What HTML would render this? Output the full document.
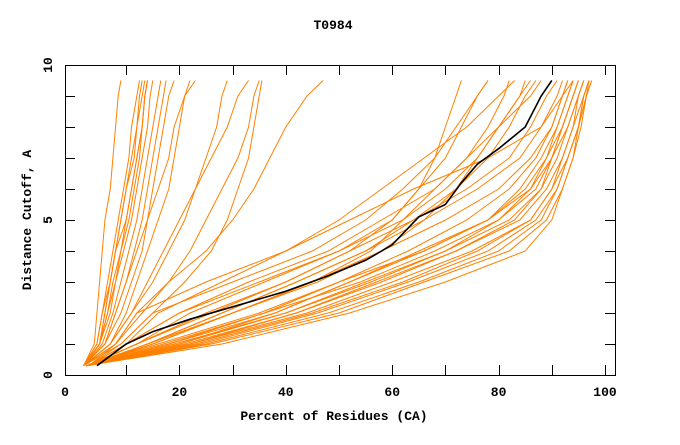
<!DOCTYPE html>
<html><head><meta charset="utf-8"><style>
body{margin:0;background:#fff}
svg text{font-family:"Liberation Mono",monospace;font-weight:bold;font-size:13px}
</style></head><body>
<svg id="chart" width="680" height="440" xmlns="http://www.w3.org/2000/svg">
<text x="333" y="29" text-anchor="middle">T0984</text>
<text x="334" y="420" text-anchor="middle">Percent of Residues (CA)</text>
<text x="31" y="220" text-anchor="middle" transform="rotate(-90 31 220)">Distance Cutoff, A</text>
<g id="series"></g>
<g id="axes"></g>
</svg>
<script>
const cutoffs=[0.3,1,2,3,4,5,6,7,8,9,9.5];
const xTicks=[0,20,40,60,80,100];
const yTicks=[0,5,10];
const orangeSeries=[
[2,4,4.5,5,5.5,6,7,7.5,8,8.5,9],
[2,4.5,5.5,6.5,7.5,8.5,9.5,10.5,11,12,12.5],
[2,5,6.5,7.5,9,10,11,12,13,13.5,14],
[2,5,7,8,9.5,11,12,13,14,14.5,15],
[2,5.5,7.5,9,10.5,12,13,14,15,16,16.5],
[2,5,6,7,8,9,10,11,12,12.5,13],
[2,6,8,10,11.5,13,14,15,16,17,17.5],
[2,5,6.5,8,9,10.5,11.5,12.5,13,13.5,14],
[2,4.5,5.5,7,8,10,11,12,13,13.5,14],
[2,6,9,11,13,14,15,16,17,18,19],
[2,5,6,7,8,9,10,11.5,12,13,13.5],
[2,6,8,10,12,14,16,18,19,21,22],
[2,7,10,12,14,16,18,19,20,21,23],
[2,7,11,15,18,21,23,25,27,28,29],
[2,8,13,18,22,25,28,31,33,34,35],
[2,9,15,21,26,29,31,33,34,35,35.5],
[2,7,11,14,17,20,23,26,29,31,33],
[2,8,12,18,25,30,34,37,40,44,47],
[3,8,12,25,40,50,58,66,74,80,83],
[3,9,15,30,45,55,62,68,72,76,78],
[3,10,20,33,48,58,68,74,78,81,82],
[3,12,25,40,52,60,65,70,73,76,78],
[3,15,30,45,56,62,68,74,80,86,88],
[3,14,28,42,55,64,72,78,82,85,87],
[3,10,16,28,40,52,64,78,88,92,94],
[3,12,22,36,50,62,70,76,80,84,86],
[3,14,30,46,58,66,72,76,80,84,85],
[3,10,20,35,50,60,65,68,70,72,73],
[2.5,18,38,52,65,78,85,89,92,94,95],
[2.5,20,40,55,70,82,88,91,93,95,96],
[2.5,22,44,60,75,86,90,92,94,96,97],
[2.5,25,48,65,80,88,91,93,95,96,97],
[2.5,28,52,70,85,90,92,94,95,96.5,97.5],
[2.5,16,35,50,63,74,82,87,90,92,93],
[2.5,19,40,56,70,80,86,89,91,93,94],
[2.5,21,42,58,72,83,88,90,92,94,95],
[2.5,23,45,62,76,86,90,93,95,96,97],
[2.5,17,36,50,66,78,84,88,91,93,94],
[2.5,24,46,63,78,87,91,93,95,96.5,97.5],
[2.5,20,38,52,66,78,86,90,93,95,96],
[2.5,26,50,66,82,89,92,94,95.5,96.5,97],
[2.5,18,36,54,68,80,87,90,92,94,95],
[2.5,22,42,57,72,84,89,92,94,95,96],
[2.5,15,30,45,58,70,80,86,90,92,93],
[2.5,14,28,42,55,66,76,84,88,91,92],
[2.5,12,26,40,52,64,74,82,86,89,91]
];
const blackX=[4.5,10,15,22,30,40,48,55,60,65,70,73,76,80,85,88,90];
const blackY=[0.3,1,1.4,1.8,2.2,2.7,3.2,3.7,4.2,5.1,5.5,6.2,6.8,7.3,8.0,9.0,9.5];

const NS="http://www.w3.org/2000/svg";
const L=65,R=615,T=65,B=375;
const xs=v=>73+5.32*v;
const ys=v=>375-31*v;
const g=document.getElementById('series');
orangeSeries.forEach(s=>{
  const p=document.createElementNS(NS,'polyline');
  p.setAttribute('points',s.map((x,j)=>xs(x)+','+ys(cutoffs[j])).join(' '));
  p.setAttribute('fill','none');
  p.setAttribute('stroke','#ff8000');
  p.setAttribute('stroke-width','1');
  
  
  g.appendChild(p);
});
const bl=document.createElementNS(NS,'polyline');
bl.setAttribute('points',blackX.map((x,j)=>xs(x)+','+ys(blackY[j])).join(' '));
bl.setAttribute('fill','none');
bl.setAttribute('stroke','#000');
bl.setAttribute('stroke-width','1.6');


g.appendChild(bl);

const ax=document.getElementById('axes');
function line(x1,y1,x2,y2){
  const l=document.createElementNS(NS,'line');
  l.setAttribute('x1',x1);l.setAttribute('y1',y1);l.setAttribute('x2',x2);l.setAttribute('y2',y2);
  l.setAttribute('stroke','#000');l.setAttribute('stroke-width','1');
  ax.appendChild(l);
  return l;
}
const fr=document.createElementNS(NS,'rect');
fr.setAttribute('x',L+0.5);fr.setAttribute('y',T+0.5);
fr.setAttribute('width',R-L);fr.setAttribute('height',B-T);
fr.setAttribute('fill','none');fr.setAttribute('stroke','#000');


ax.appendChild(fr);
for(let v=10;v<=100;v+=10){const x=Math.round(xs(v))+0.5;line(x,B,x,B-10);line(x,T,x,T+10);}
for(let v=1;v<=10;v++){const y=Math.round(ys(v))+0.5;line(L,y,L+10,y);line(R,y,R-10,y);}
xTicks.forEach(v=>{
  const t=document.createElementNS(NS,'text');
  t.setAttribute('x',v===0?65:xs(v));t.setAttribute('y',396);
  t.setAttribute('text-anchor','middle');t.textContent=v;
  
  
  ax.appendChild(t);
});
yTicks.forEach(v=>{
  const t=document.createElementNS(NS,'text');
  const y=ys(v);
  t.setAttribute('x',52);t.setAttribute('y',y);t.setAttribute('text-anchor','middle');
  t.setAttribute('transform','rotate(-90 52 '+y+')');t.textContent=v;
  
  
  ax.appendChild(t);
});
</script>
</body></html>
